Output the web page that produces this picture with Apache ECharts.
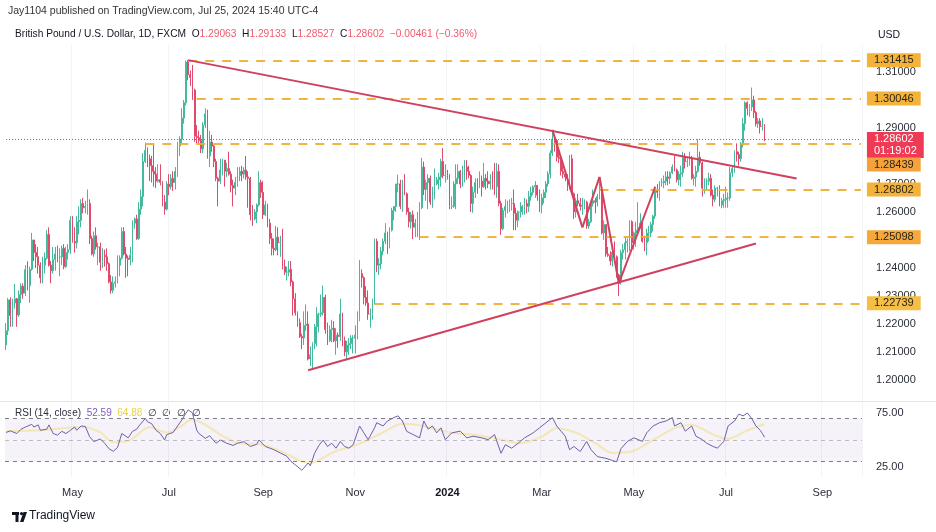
<!DOCTYPE html>
<html><head><meta charset="utf-8">
<script src="https://cdn.jsdelivr.net/npm/echarts@6/dist/echarts.min.js"></script>
<style>html,body{margin:0;padding:0;background:#fff}#c{width:936px;height:532px}</style>
</head><body><div id="c"></div>
<script>
// Daily candles: [date, open, high, low, close]
const candles = [
['2023-03-17',1.2125,1.2203,1.2107,1.2176],['2023-03-20',1.2176,1.2293,1.2160,1.2286],['2023-03-21',1.2286,1.2295,1.2190,1.2230],['2023-03-22',1.2230,1.2290,1.2190,1.2275],['2023-03-23',1.2275,1.2343,1.2255,1.2290],['2023-03-24',1.2290,1.2293,1.2190,1.2232],['2023-03-27',1.2232,1.2320,1.2225,1.2305],['2023-03-28',1.2305,1.2345,1.2275,1.2335],['2023-03-29',1.2335,1.2345,1.2290,1.2310],['2023-03-30',1.2310,1.2410,1.2300,1.2394],['2023-03-31',1.2394,1.2424,1.2320,1.2337],
['2023-04-03',1.2337,1.2405,1.2275,1.2395],['2023-04-04',1.2395,1.2525,1.2390,1.2500],['2023-04-05',1.2500,1.2500,1.2425,1.2455],['2023-04-06',1.2455,1.2485,1.2400,1.2440],['2023-04-07',1.2440,1.2475,1.2380,1.2410],['2023-04-10',1.2410,1.2420,1.2345,1.2365],['2023-04-11',1.2365,1.2440,1.2345,1.2410],['2023-04-12',1.2410,1.2455,1.2380,1.2435],['2023-04-13',1.2435,1.2535,1.2430,1.2520],['2023-04-14',1.2520,1.2545,1.2405,1.2410],['2023-04-17',1.2410,1.2425,1.2345,1.2390],['2023-04-18',1.2390,1.2475,1.2380,1.2430],['2023-04-19',1.2430,1.2475,1.2390,1.2450],['2023-04-20',1.2450,1.2480,1.2420,1.2440],['2023-04-21',1.2440,1.2470,1.2370,1.2440],['2023-04-24',1.2440,1.2480,1.2410,1.2470],['2023-04-25',1.2470,1.2485,1.2395,1.2405],['2023-04-26',1.2405,1.2475,1.2400,1.2455],['2023-04-27',1.2455,1.2485,1.2430,1.2465],['2023-04-28',1.2465,1.2585,1.2450,1.2570],
['2023-05-01',1.2570,1.2585,1.2490,1.2495],['2023-05-02',1.2495,1.2545,1.2455,1.2490],['2023-05-03',1.2490,1.2585,1.2470,1.2565],['2023-05-04',1.2565,1.2620,1.2520,1.2570],['2023-05-05',1.2570,1.2645,1.2545,1.2630],['2023-05-08',1.2630,1.2650,1.2595,1.2615],['2023-05-09',1.2615,1.2640,1.2595,1.2620],['2023-05-10',1.2620,1.2680,1.2590,1.2630],['2023-05-11',1.2630,1.2645,1.2485,1.2505],['2023-05-12',1.2505,1.2515,1.2445,1.2450],['2023-05-15',1.2450,1.2530,1.2440,1.2515],['2023-05-16',1.2515,1.2545,1.2465,1.2475],['2023-05-17',1.2475,1.2490,1.2410,1.2475],['2023-05-18',1.2475,1.2490,1.2390,1.2420],['2023-05-19',1.2420,1.2470,1.2400,1.2445],['2023-05-22',1.2445,1.2465,1.2405,1.2440],['2023-05-23',1.2440,1.2470,1.2390,1.2415],['2023-05-24',1.2415,1.2420,1.2345,1.2350],['2023-05-25',1.2350,1.2375,1.2308,1.2320],['2023-05-26',1.2320,1.2370,1.2310,1.2345],['2023-05-29',1.2345,1.2370,1.2330,1.2350],['2023-05-30',1.2350,1.2445,1.2345,1.2410],['2023-05-31',1.2410,1.2445,1.2370,1.2435],
['2023-06-01',1.2435,1.2545,1.2430,1.2530],['2023-06-02',1.2530,1.2545,1.2445,1.2450],['2023-06-05',1.2450,1.2475,1.2365,1.2435],['2023-06-06',1.2435,1.2445,1.2370,1.2430],['2023-06-07',1.2430,1.2475,1.2410,1.2445],['2023-06-08',1.2445,1.2570,1.2420,1.2560],['2023-06-09',1.2560,1.2580,1.2540,1.2575],['2023-06-12',1.2575,1.2590,1.2500,1.2505],['2023-06-13',1.2505,1.2635,1.2500,1.2610],['2023-06-14',1.2610,1.2680,1.2590,1.2655],['2023-06-15',1.2655,1.2810,1.2620,1.2780],['2023-06-16',1.2780,1.2848,1.2775,1.2820],['2023-06-19',1.2820,1.2830,1.2760,1.2790],['2023-06-20',1.2790,1.2805,1.2710,1.2765],['2023-06-21',1.2765,1.2800,1.2705,1.2745],['2023-06-22',1.2745,1.2840,1.2690,1.2735],['2023-06-23',1.2735,1.2760,1.2685,1.2710],['2023-06-26',1.2710,1.2770,1.2705,1.2715],['2023-06-27',1.2715,1.2770,1.2695,1.2705],['2023-06-28',1.2705,1.2710,1.2620,1.2635],['2023-06-29',1.2635,1.2660,1.2590,1.2610],['2023-06-30',1.2610,1.2710,1.2605,1.2700],
['2023-07-03',1.2700,1.2735,1.2660,1.2690],['2023-07-04',1.2690,1.2735,1.2680,1.2720],['2023-07-05',1.2720,1.2745,1.2675,1.2705],['2023-07-06',1.2705,1.2760,1.2680,1.2745],['2023-07-07',1.2745,1.2850,1.2725,1.2835],['2023-07-10',1.2835,1.2870,1.2800,1.2860],['2023-07-11',1.2860,1.2970,1.2845,1.2935],['2023-07-12',1.2935,1.3000,1.2915,1.2990],['2023-07-13',1.2990,1.3140,1.2980,1.3135],['2023-07-14',1.3135,1.3142,1.3070,1.3090],['2023-07-17',1.3090,1.3105,1.3050,1.3080],['2023-07-18',1.3080,1.3125,1.3000,1.3035],['2023-07-19',1.3035,1.3040,1.2850,1.2870],['2023-07-20',1.2870,1.2910,1.2845,1.2865],['2023-07-21',1.2865,1.2890,1.2845,1.2855],['2023-07-24',1.2855,1.2875,1.2810,1.2825],['2023-07-25',1.2825,1.2920,1.2810,1.2910],['2023-07-26',1.2910,1.2970,1.2900,1.2950],['2023-07-27',1.2950,1.2965,1.2790,1.2800],['2023-07-28',1.2800,1.2890,1.2760,1.2850],['2023-07-31',1.2850,1.2875,1.2815,1.2835],
['2023-08-01',1.2835,1.2840,1.2760,1.2780],['2023-08-02',1.2780,1.2790,1.2710,1.2720],['2023-08-03',1.2720,1.2725,1.2620,1.2710],['2023-08-04',1.2710,1.2790,1.2700,1.2750],['2023-08-07',1.2750,1.2790,1.2730,1.2785],['2023-08-08',1.2785,1.2785,1.2690,1.2745],['2023-08-09',1.2745,1.2775,1.2725,1.2755],['2023-08-10',1.2755,1.2815,1.2730,1.2735],['2023-08-11',1.2735,1.2745,1.2670,1.2695],['2023-08-14',1.2695,1.2715,1.2620,1.2685],['2023-08-15',1.2685,1.2725,1.2660,1.2705],['2023-08-16',1.2705,1.2760,1.2690,1.2730],['2023-08-17',1.2730,1.2760,1.2710,1.2745],['2023-08-18',1.2745,1.2765,1.2710,1.2735],['2023-08-21',1.2735,1.2760,1.2720,1.2750],['2023-08-22',1.2750,1.2800,1.2715,1.2725],['2023-08-23',1.2725,1.2745,1.2615,1.2720],['2023-08-24',1.2720,1.2725,1.2570,1.2590],['2023-08-25',1.2590,1.2625,1.2550,1.2575],['2023-08-28',1.2575,1.2610,1.2570,1.2600],['2023-08-29',1.2600,1.2630,1.2560,1.2625],['2023-08-30',1.2625,1.2745,1.2620,1.2705],['2023-08-31',1.2705,1.2715,1.2650,1.2670],
['2023-09-01',1.2670,1.2710,1.2575,1.2590],['2023-09-04',1.2590,1.2640,1.2585,1.2625],['2023-09-05',1.2625,1.2630,1.2545,1.2560],['2023-09-06',1.2560,1.2575,1.2485,1.2505],['2023-09-07',1.2505,1.2525,1.2445,1.2470],['2023-09-08',1.2470,1.2505,1.2445,1.2465],['2023-09-11',1.2465,1.2550,1.2460,1.2510],['2023-09-12',1.2510,1.2545,1.2445,1.2490],['2023-09-13',1.2490,1.2515,1.2440,1.2490],['2023-09-14',1.2490,1.2540,1.2395,1.2405],['2023-09-15',1.2405,1.2430,1.2375,1.2385],['2023-09-18',1.2385,1.2405,1.2355,1.2385],['2023-09-19',1.2385,1.2425,1.2370,1.2395],['2023-09-20',1.2395,1.2425,1.2335,1.2350],['2023-09-21',1.2350,1.2355,1.2230,1.2290],['2023-09-22',1.2290,1.2310,1.2230,1.2240],['2023-09-25',1.2240,1.2245,1.2190,1.2205],['2023-09-26',1.2205,1.2220,1.2150,1.2155],['2023-09-27',1.2155,1.2165,1.2110,1.2150],['2023-09-28',1.2150,1.2245,1.2125,1.2195],['2023-09-29',1.2195,1.2270,1.2175,1.2200],
['2023-10-02',1.2200,1.2245,1.2070,1.2075],['2023-10-03',1.2075,1.2120,1.2050,1.2090],['2023-10-04',1.2090,1.2135,1.2037,1.2130],['2023-10-05',1.2130,1.2200,1.2110,1.2190],['2023-10-06',1.2190,1.2260,1.2120,1.2235],['2023-10-09',1.2235,1.2240,1.2170,1.2235],['2023-10-10',1.2235,1.2305,1.2225,1.2240],['2023-10-11',1.2240,1.2337,1.2230,1.2295],['2023-10-12',1.2295,1.2305,1.2165,1.2180],['2023-10-13',1.2180,1.2205,1.2125,1.2140],['2023-10-16',1.2140,1.2195,1.2135,1.2180],['2023-10-17',1.2180,1.2215,1.2135,1.2185],['2023-10-18',1.2185,1.2210,1.2135,1.2140],['2023-10-19',1.2140,1.2185,1.2090,1.2160],['2023-10-20',1.2160,1.2170,1.2115,1.2155],['2023-10-23',1.2155,1.2290,1.2140,1.2235],['2023-10-24',1.2235,1.2240,1.2120,1.2140],['2023-10-25',1.2140,1.2155,1.2085,1.2100],['2023-10-26',1.2100,1.2140,1.2070,1.2125],['2023-10-27',1.2125,1.2150,1.2090,1.2130],['2023-10-30',1.2130,1.2160,1.2110,1.2150],['2023-10-31',1.2150,1.2160,1.2095,1.2150],
['2023-11-01',1.2150,1.2195,1.2095,1.2160],['2023-11-02',1.2160,1.2245,1.2145,1.2220],['2023-11-03',1.2220,1.2428,1.2210,1.2380],['2023-11-06',1.2380,1.2395,1.2330,1.2365],['2023-11-07',1.2365,1.2370,1.2270,1.2295],['2023-11-08',1.2295,1.2335,1.2265,1.2275],['2023-11-09',1.2275,1.2320,1.2215,1.2235],['2023-11-10',1.2235,1.2255,1.2187,1.2235],['2023-11-13',1.2235,1.2290,1.2215,1.2275],['2023-11-14',1.2275,1.2505,1.2270,1.2495],['2023-11-15',1.2495,1.2505,1.2385,1.2410],['2023-11-16',1.2410,1.2435,1.2375,1.2415],['2023-11-17',1.2415,1.2475,1.2395,1.2460],['2023-11-20',1.2460,1.2505,1.2445,1.2495],['2023-11-21',1.2495,1.2560,1.2485,1.2525],['2023-11-22',1.2525,1.2530,1.2450,1.2475],['2023-11-23',1.2475,1.2545,1.2470,1.2535],['2023-11-24',1.2535,1.2615,1.2530,1.2605],['2023-11-27',1.2605,1.2620,1.2570,1.2620],['2023-11-28',1.2620,1.2700,1.2600,1.2700],['2023-11-29',1.2700,1.2733,1.2670,1.2700],['2023-11-30',1.2700,1.2715,1.2610,1.2620],
['2023-12-01',1.2620,1.2715,1.2600,1.2705],['2023-12-04',1.2705,1.2735,1.2660,1.2665],['2023-12-05',1.2665,1.2670,1.2590,1.2600],['2023-12-06',1.2600,1.2615,1.2545,1.2565],['2023-12-07',1.2565,1.2600,1.2540,1.2590],['2023-12-08',1.2590,1.2605,1.2503,1.2545],['2023-12-11',1.2545,1.2575,1.2510,1.2560],['2023-12-12',1.2560,1.2600,1.2510,1.2560],['2023-12-13',1.2560,1.2635,1.2500,1.2615],['2023-12-14',1.2615,1.2793,1.2610,1.2760],['2023-12-15',1.2760,1.2780,1.2660,1.2680],['2023-12-18',1.2680,1.2715,1.2640,1.2705],['2023-12-19',1.2705,1.2735,1.2610,1.2720],['2023-12-20',1.2720,1.2730,1.2625,1.2635],['2023-12-21',1.2635,1.2690,1.2615,1.2680],['2023-12-22',1.2680,1.2755,1.2645,1.2700],['2023-12-25',1.2700,1.2725,1.2695,1.2715],['2023-12-26',1.2715,1.2740,1.2680,1.2725],['2023-12-27',1.2725,1.2790,1.2690,1.2780],['2023-12-28',1.2780,1.2828,1.2720,1.2730],['2023-12-29',1.2730,1.2770,1.2705,1.2730],
['2024-01-01',1.2730,1.2750,1.2715,1.2720],['2024-01-02',1.2720,1.2735,1.2610,1.2620],['2024-01-03',1.2620,1.2655,1.2610,1.2620],['2024-01-04',1.2620,1.2710,1.2615,1.2700],['2024-01-05',1.2700,1.2770,1.2610,1.2720],['2024-01-08',1.2720,1.2770,1.2700,1.2745],['2024-01-09',1.2745,1.2750,1.2685,1.2700],['2024-01-10',1.2700,1.2765,1.2690,1.2750],['2024-01-11',1.2750,1.2785,1.2705,1.2760],['2024-01-12',1.2760,1.2785,1.2715,1.2745],['2024-01-15',1.2745,1.2765,1.2720,1.2730],['2024-01-16',1.2730,1.2735,1.2600,1.2630],['2024-01-17',1.2630,1.2690,1.2597,1.2670],['2024-01-18',1.2670,1.2720,1.2650,1.2705],['2024-01-19',1.2705,1.2720,1.2665,1.2700],['2024-01-22',1.2700,1.2745,1.2685,1.2710],['2024-01-23',1.2710,1.2730,1.2655,1.2690],['2024-01-24',1.2690,1.2775,1.2685,1.2720],['2024-01-25',1.2720,1.2735,1.2680,1.2710],['2024-01-26',1.2710,1.2745,1.2685,1.2700],['2024-01-29',1.2700,1.2735,1.2680,1.2710],['2024-01-30',1.2710,1.2745,1.2680,1.2700],['2024-01-31',1.2700,1.2775,1.2660,1.2690],
['2024-02-01',1.2690,1.2775,1.2650,1.2745],['2024-02-02',1.2745,1.2770,1.2620,1.2630],['2024-02-05',1.2630,1.2640,1.2518,1.2540],['2024-02-06',1.2540,1.2615,1.2535,1.2605],['2024-02-07',1.2605,1.2645,1.2580,1.2620],['2024-02-08',1.2620,1.2640,1.2595,1.2625],['2024-02-09',1.2625,1.2645,1.2600,1.2630],['2024-02-12',1.2630,1.2650,1.2605,1.2630],['2024-02-13',1.2630,1.2680,1.2535,1.2595],['2024-02-14',1.2595,1.2615,1.2535,1.2570],['2024-02-15',1.2570,1.2605,1.2545,1.2600],['2024-02-16',1.2600,1.2635,1.2580,1.2600],['2024-02-19',1.2600,1.2625,1.2590,1.2620],['2024-02-20',1.2620,1.2650,1.2590,1.2630],['2024-02-21',1.2630,1.2645,1.2595,1.2620],['2024-02-22',1.2620,1.2675,1.2600,1.2655],['2024-02-23',1.2655,1.2690,1.2640,1.2670],['2024-02-26',1.2670,1.2695,1.2660,1.2690],['2024-02-27',1.2690,1.2710,1.2650,1.2695],['2024-02-28',1.2695,1.2695,1.2640,1.2660],['2024-02-29',1.2660,1.2680,1.2600,1.2625],
['2024-03-01',1.2625,1.2665,1.2595,1.2650],['2024-03-04',1.2650,1.2680,1.2630,1.2670],['2024-03-05',1.2670,1.2710,1.2650,1.2700],['2024-03-06',1.2700,1.2745,1.2690,1.2735],['2024-03-07',1.2735,1.2820,1.2720,1.2810],['2024-03-08',1.2810,1.2893,1.2800,1.2860],['2024-03-11',1.2860,1.2865,1.2815,1.2855],['2024-03-12',1.2855,1.2860,1.2780,1.2795],['2024-03-13',1.2795,1.2815,1.2775,1.2790],['2024-03-14',1.2790,1.2800,1.2730,1.2745],['2024-03-15',1.2745,1.2765,1.2720,1.2735],['2024-03-18',1.2735,1.2750,1.2710,1.2725],['2024-03-19',1.2725,1.2735,1.2675,1.2720],['2024-03-20',1.2720,1.2803,1.2680,1.2790],['2024-03-21',1.2790,1.2805,1.2665,1.2665],['2024-03-22',1.2665,1.2670,1.2575,1.2600],['2024-03-25',1.2600,1.2650,1.2580,1.2640],['2024-03-26',1.2640,1.2665,1.2620,1.2630],['2024-03-27',1.2630,1.2650,1.2605,1.2620],['2024-03-28',1.2620,1.2650,1.2590,1.2625],['2024-03-29',1.2625,1.2645,1.2610,1.2635],
['2024-04-01',1.2635,1.2640,1.2540,1.2550],['2024-04-02',1.2550,1.2575,1.2540,1.2565],['2024-04-03',1.2565,1.2635,1.2560,1.2630],['2024-04-04',1.2630,1.2680,1.2620,1.2640],['2024-04-05',1.2640,1.2650,1.2595,1.2635],['2024-04-08',1.2635,1.2665,1.2620,1.2655],['2024-04-09',1.2655,1.2709,1.2645,1.2675],['2024-04-10',1.2675,1.2680,1.2520,1.2525],['2024-04-11',1.2525,1.2570,1.2500,1.2555],['2024-04-12',1.2555,1.2555,1.2440,1.2450],['2024-04-15',1.2450,1.2475,1.2440,1.2445],['2024-04-16',1.2445,1.2460,1.2410,1.2425],['2024-04-17',1.2425,1.2460,1.2405,1.2455],['2024-04-18',1.2455,1.2495,1.2435,1.2440],['2024-04-19',1.2440,1.2445,1.2365,1.2375],['2024-04-22',1.2375,1.2380,1.2300,1.2350],['2024-04-23',1.2350,1.2465,1.2340,1.2455],['2024-04-24',1.2455,1.2485,1.2430,1.2465],['2024-04-25',1.2465,1.2510,1.2430,1.2490],['2024-04-26',1.2490,1.2505,1.2455,1.2495],['2024-04-29',1.2495,1.2570,1.2460,1.2565],['2024-04-30',1.2565,1.2570,1.2470,1.2490],
['2024-05-01',1.2490,1.2530,1.2465,1.2525],['2024-05-02',1.2525,1.2565,1.2475,1.2535],['2024-05-03',1.2535,1.2635,1.2520,1.2545],['2024-05-06',1.2545,1.2595,1.2540,1.2560],['2024-05-07',1.2560,1.2570,1.2490,1.2495],['2024-05-08',1.2495,1.2515,1.2460,1.2490],['2024-05-09',1.2490,1.2540,1.2445,1.2525],['2024-05-10',1.2525,1.2550,1.2495,1.2525],['2024-05-13',1.2525,1.2565,1.2510,1.2555],['2024-05-14',1.2555,1.2590,1.2530,1.2585],['2024-05-15',1.2585,1.2690,1.2575,1.2680],['2024-05-16',1.2680,1.2700,1.2650,1.2670],['2024-05-17',1.2670,1.2710,1.2640,1.2705],['2024-05-20',1.2705,1.2720,1.2690,1.2705],['2024-05-21',1.2705,1.2730,1.2685,1.2710],['2024-05-22',1.2710,1.2745,1.2695,1.2725],['2024-05-23',1.2725,1.2745,1.2695,1.2720],['2024-05-24',1.2720,1.2745,1.2700,1.2740],['2024-05-27',1.2740,1.2770,1.2735,1.2760],['2024-05-28',1.2760,1.2800,1.2745,1.2750],['2024-05-29',1.2750,1.2755,1.2705,1.2715],['2024-05-30',1.2715,1.2745,1.2695,1.2735],['2024-05-31',1.2735,1.2765,1.2690,1.2740],
['2024-06-03',1.2740,1.2815,1.2725,1.2795],['2024-06-04',1.2795,1.2810,1.2755,1.2780],['2024-06-05',1.2780,1.2795,1.2760,1.2780],['2024-06-06',1.2780,1.2815,1.2765,1.2790],['2024-06-07',1.2790,1.2800,1.2715,1.2720],['2024-06-10',1.2720,1.2735,1.2695,1.2725],['2024-06-11',1.2725,1.2765,1.2690,1.2745],['2024-06-12',1.2745,1.2860,1.2740,1.2795],['2024-06-13',1.2795,1.2815,1.2765,1.2775],['2024-06-14',1.2775,1.2780,1.2655,1.2685],['2024-06-17',1.2685,1.2720,1.2665,1.2710],['2024-06-18',1.2710,1.2720,1.2680,1.2710],['2024-06-19',1.2710,1.2740,1.2695,1.2720],['2024-06-20',1.2720,1.2735,1.2655,1.2660],['2024-06-21',1.2660,1.2680,1.2620,1.2645],['2024-06-24',1.2645,1.2695,1.2635,1.2685],['2024-06-25',1.2685,1.2690,1.2655,1.2685],['2024-06-26',1.2685,1.2695,1.2620,1.2625],['2024-06-27',1.2625,1.2650,1.2613,1.2640],['2024-06-28',1.2640,1.2665,1.2615,1.2645],
['2024-07-01',1.2645,1.2690,1.2615,1.2650],['2024-07-02',1.2650,1.2670,1.2615,1.2650],['2024-07-03',1.2650,1.2760,1.2640,1.2740],['2024-07-04',1.2740,1.2765,1.2725,1.2755],['2024-07-05',1.2755,1.2820,1.2740,1.2815],['2024-07-08',1.2815,1.2845,1.2780,1.2805],['2024-07-09',1.2805,1.2815,1.2765,1.2790],['2024-07-10',1.2790,1.2850,1.2780,1.2840],['2024-07-11',1.2840,1.2935,1.2830,1.2915],['2024-07-12',1.2915,1.2995,1.2890,1.2990],['2024-07-15',1.2990,1.2995,1.2945,1.2970],['2024-07-16',1.2970,1.2985,1.2940,1.2975],['2024-07-17',1.2975,1.3044,1.2960,1.3000],['2024-07-18',1.3000,1.3015,1.2935,1.2955],['2024-07-19',1.2955,1.2960,1.2905,1.2915],['2024-07-22',1.2915,1.2935,1.2900,1.2925],['2024-07-23',1.2925,1.2935,1.2880,1.2905],['2024-07-24',1.2905,1.2935,1.2890,1.29063],['2024-07-25',1.29063,1.29133,1.28527,1.28602]
];
// Empty future sessions that extend the time axis
const futureDates = ['2024-07-26','2024-07-29','2024-07-30','2024-07-31','2024-08-01','2024-08-02','2024-08-05','2024-08-06','2024-08-07','2024-08-08','2024-08-09','2024-08-12','2024-08-13','2024-08-14','2024-08-15','2024-08-16','2024-08-19','2024-08-20','2024-08-21','2024-08-22','2024-08-23','2024-08-26','2024-08-27','2024-08-28','2024-08-29','2024-08-30','2024-09-02','2024-09-03','2024-09-04','2024-09-05','2024-09-06','2024-09-09','2024-09-10','2024-09-11','2024-09-12','2024-09-13','2024-09-16','2024-09-17','2024-09-18','2024-09-19','2024-09-20','2024-09-23','2024-09-24','2024-09-25','2024-09-26'];

const levelValues = [1.31415, 1.30046, 1.28439, 1.26802, 1.25098, 1.22739];
const levelStarts = ['2023-07-14', '2023-07-20', '2023-06-16', '2024-04-09', '2023-12-13', '2023-11-14'];
const lastPrice = 1.28602;
const countdown = '01:19:02';
const upperTrend = [['2023-07-14', 1.3142], ['2024-08-15', 1.2719]];
const lowerTrend = [['2023-10-02', 1.2035], ['2024-07-19', 1.2487]];
const zigzag = [['2024-03-08', 1.2893], ['2024-03-28', 1.2545], ['2024-04-09', 1.2725], ['2024-04-22', 1.2345], ['2024-05-15', 1.2690]];
const priceTicks = [1.20, 1.21, 1.22, 1.23, 1.24, 1.25, 1.26, 1.27, 1.28, 1.29, 1.30, 1.31];
const rsiTicks = [25, 75];
const rsiLevels = [70, 50, 30];
const monthNames = ['Jan','Feb','Mar','Apr','May','Jun','Jul','Aug','Sep','Oct','Nov','Dec'];

// RSI(14): [candle index, value]
const rsiPoints = [[0,57],[2,58.5],[5,56],[7,60],[9,62],[12,64.5],[13,62],[15,64],[16,59],[19,60],[20,64],[22,56],[24,54.5],[26,58],[28,56],[30,59],[32,62],[33,59],[35,63],[37,62.5],[39,53],[41,48.5],[44,51],[46,47],[48,42],[50,39.5],[52,43],[54,56],[57,52],[59,58],[61,60],[62,63],[65,70],[66,67],[68,65],[70,59],[72,56],[74,50],[75,55],[78,57],[79,60],[82,68.5],[84,75],[85,78],[87,75],[89,59],[90,56],[93,51.5],[95,54],[98,47],[100,50],[103,47],[106,45],[108,47],[111,48.5],[114,44],[117,46],[118,50],[121,44],[123,42.5],[125,41],[128,38],[131,35],[133,30],[135,27],[138,22],[139,24],[141,28.7],[142,26],[144,37.7],[146,45],[148,50],[150,44],[152,47],[154,42.4],[156,48.7],[158,44],[160,42.4],[162,45.6],[165,63],[167,56.6],[169,50.3],[172,61.3],[173,66],[176,63],[178,67.6],[181,70.8],[183,72.4],[185,67.6],[187,58],[190,55],[193,52],[195,67.6],[197,60],[199,63],[201,56.6],[203,61.3],[205,50.3],[208,56.6],[212,58.2],[215,52],[218,53.5],[222,52],[225,50.3],[228,55],[231,37.7],[233,45.6],[236,42.4],[239,47],[242,52],[246,56.6],[249,61.3],[252,66],[255,70.8],[257,63],[259,58.2],[261,53.5],[263,41],[265,44],[268,39.3],[271,48.7],[273,41],[276,34.6],[280,33],[283,31],[285,29.8],[287,42],[290,48.7],[293,52],[297,48.7],[299,56.6],[302,63],[305,66],[308,67.6],[311,70.8],[312,63],[315,66],[317,58.2],[320,63],[322,53.5],[325,50.3],[327,47],[330,44],[332,42.4],[335,48.7],[337,63],[340,67.6],[342,74],[344,72.4],[346,75],[348,70],[350,63],[352,59],[353,56],[354,52.59]];
// RSI-based MA
const rsiMaPoints = [[0,58],[16,59],[36,62],[44,57],[50,48],[58,50],[67,62],[75,57],[81,62],[87,69],[93,64],[100,55],[109,47],[118,46],[129,39],[137,31],[142,28.5],[153,39],[163,45],[175,56],[185,65],[195,63],[207,57],[220,54.5],[230,51],[240,47],[250,53],[257,61],[267,56],[275,47],[283,38],[293,40],[302,50],[312,61],[320,64],[330,55],[337,51],[345,58],[354,64.88]];
const rsiLast = 52.59, rsiMaLast = 64.88;

const dates = candles.map(r => r[0]).concat(futureDates);
const firstCat = dates[0], lastCat = dates[dates.length - 1];
const ohlc = candles.map(r => [r[1], r[4], r[3], r[2]]);

const labelIdx = new Set();
for (let i = 1; i < dates.length; i++) {
  const m = +dates[i].slice(5, 7), pm = +dates[i - 1].slice(5, 7);
  if (m !== pm && m % 2 === 1) labelIdx.add(i);
}
const showTick = (i) => labelIdx.has(i);
const fmtDate = (v) => {
  const m = +v.slice(5, 7);
  return m === 1 ? '{b|' + v.slice(0, 4) + '}' : monthNames[m - 1];
};

const FONT = '"Liberation Sans", Arial, sans-serif';
const GOLD = '#F3B23A';
const levelBoxColors = [GOLD, GOLD, '#F6A23A', GOLD, '#F6A93A', '#F5BE45'];
const levelOffsets = [0, 0, 21, 0, 0, 0];

const levelLines = levelValues.map((v, i) => [
  { coord: [levelStarts[i], v],
    lineStyle: { color: 'rgba(240,172,45,0.9)', width: 2, type: [9, 8] },
    label: { show: true, position: 'end', distance: 6, formatter: v.toFixed(5),
      backgroundColor: levelBoxColors[i], color: '#2a2418', padding: [1, 7, 0, 7],
      fontSize: 11, fontFamily: FONT, lineHeight: 13, offset: [0, levelOffsets[i]] } },
  { coord: [lastCat, v] }
]);
const plain = { color: '#D0405F', width: 2, type: 'solid' };
const segs = [];
segs.push([{ coord: upperTrend[0], lineStyle: plain, label: { show: false } }, { coord: upperTrend[1] }]);
segs.push([{ coord: lowerTrend[0], lineStyle: plain, label: { show: false } }, { coord: lowerTrend[1] }]);
for (let i = 0; i < zigzag.length - 1; i++) {
  segs.push([{ coord: zigzag[i], lineStyle: plain, label: { show: false } }, { coord: zigzag[i + 1] }]);
}
const priceLine = [
  { coord: [firstCat, lastPrice],
    lineStyle: { color: '#F23645', width: 1, type: [1, 2] },
    label: { show: true, position: 'end', distance: 6, formatter: lastPrice.toFixed(5) + '\n' + countdown,
      backgroundColor: '#EE3A55', color: '#fff', padding: [1, 7, 1, 7], fontSize: 11,
      fontFamily: FONT, lineHeight: 12, offset: [0, 6] } },
  { coord: [lastCat, lastPrice] }
];

const chart = echarts.init(document.getElementById('c'));
chart.setOption({
  animation: false,
  backgroundColor: '#ffffff',
  grid: [
    { left: 5, right: 74, top: 45, height: 356 },
    { left: 5, right: 74, top: 403, height: 74 }
  ],
  xAxis: [
    { type: 'category', gridIndex: 0, data: dates, boundaryGap: true,
      axisLine: { show: false }, axisTick: { show: false }, axisLabel: { show: false },
      splitLine: { show: true, interval: showTick, lineStyle: { color: '#f3f4f7', width: 1 } } },
    { type: 'category', gridIndex: 1, data: dates, boundaryGap: true,
      axisLine: { show: false }, axisTick: { show: false },
      splitLine: { show: true, interval: showTick, lineStyle: { color: '#f3f4f7', width: 1 } },
      axisLabel: { show: true, interval: showTick, formatter: fmtDate, margin: 10,
        color: '#2a2e39', fontSize: 11, fontFamily: FONT,
        rich: { b: { fontWeight: 'bold', fontSize: 11, color: '#131722', fontFamily: FONT } } } }
  ],
  yAxis: [
    { type: 'value', gridIndex: 0, position: 'right', min: 1.1925, max: 1.3196,
      splitLine: { show: false }, axisLine: { show: false }, axisTick: { show: false },
      axisLabel: { customValues: priceTicks, formatter: v => v.toFixed(5), margin: 14,
        color: '#2a2e39', fontSize: 11, fontFamily: FONT } },
    { type: 'value', gridIndex: 1, position: 'right', min: 15.7, max: 84.3,
      splitLine: { show: false }, axisLine: { show: false }, axisTick: { show: false },
      axisLabel: { customValues: rsiTicks, formatter: v => v.toFixed(2), margin: 14,
        color: '#2a2e39', fontSize: 11, fontFamily: FONT } }
  ],
  series: [
    { type: 'candlestick', xAxisIndex: 0, yAxisIndex: 0, data: ohlc, barWidth: '62%',
      itemStyle: { color: '#45B99B', color0: '#E04B6C', borderColor: '#45B99B', borderColor0: '#E04B6C', borderWidth: 1 },
      markLine: { silent: true, symbol: ['none', 'none'], animation: false,
        data: [priceLine].concat(levelLines, segs) } },
    { type: 'line', name: 'RSI MA', xAxisIndex: 1, yAxisIndex: 1, data: rsiMaPoints,
      showSymbol: false, smooth: 0.3, lineStyle: { color: 'rgba(242,222,110,0.5)', width: 2 },
      markLine: { silent: true, symbol: ['none', 'none'],
        data: [{ yAxis: rsiMaLast, lineStyle: { opacity: 0 },
          label: { show: true, position: 'end', distance: 6, formatter: rsiMaLast.toFixed(2),
            backgroundColor: '#F2E34C', color: '#4b3a8a', padding: [1, 6, 0, 6], fontSize: 11,
            fontFamily: FONT, lineHeight: 12 } }] } },
    { type: 'line', name: 'RSI', xAxisIndex: 1, yAxisIndex: 1, data: rsiPoints,
      showSymbol: false, lineStyle: { color: '#6E62A8', width: 1 },
      markArea: { silent: true, itemStyle: { color: 'rgba(126,87,194,0.08)' },
        data: [[{ yAxis: 30 }, { yAxis: 70 }]] },
      markLine: { silent: true, symbol: ['none', 'none'],
        data: rsiLevels.map(v => ({ yAxis: v, label: { show: false },
          lineStyle: { color: v === 50 ? 'rgba(120,123,134,0.45)' : '#787B86', width: 1, type: [4, 4] } }))
          .concat([{ yAxis: rsiLast, lineStyle: { opacity: 0 },
            label: { show: true, position: 'end', distance: 6, formatter: rsiLast.toFixed(2),
              backgroundColor: '#7E57C2', color: '#fff', padding: [1, 6, 0, 6], fontSize: 11,
              fontFamily: FONT, lineHeight: 12 } }]) } }
  ],
  graphic: [
    { type: 'text', left: 8, top: 6, silent: true,
      style: { text: 'Jay1104 published on TradingView.com, Jul 25, 2024 15:40 UTC-4', fill: '#333', font: '10.5px ' + FONT } },
    { type: 'text', left: 15, top: 29, silent: true,
      style: { text: '{a|British Pound / U.S. Dollar, 1D, FXCM}  {a|O}{v|1.29063}  {a|H}{v|1.29133}  {a|L}{v|1.28527}  {a|C}{v|1.28602}  {v|\u22120.00461 (\u22120.36%)}',
        font: '10.2px ' + FONT,
        rich: { a: { fill: '#131722', font: '10.2px ' + FONT }, v: { fill: '#EF5A70', font: '10.2px ' + FONT } } } },
    { type: 'text', left: 878, top: 30, silent: true,
      style: { text: 'USD', fill: '#131722', font: '10.5px ' + FONT } },
    { type: 'rect', silent: true, shape: { x: 0, y: 401, width: 936, height: 1 }, style: { fill: '#e0e3eb' } },
    { type: 'text', left: 15, top: 408, silent: true,
      style: { text: '{a|RSI (14, close)}  {p|52.59}  {y|64.88}  {a|\u2205  \u2205  \u2205  \u2205}',
        font: '10px ' + FONT,
        rich: { a: { fill: '#2a2e39', font: '10px ' + FONT }, p: { fill: '#7E57C2', font: '10px ' + FONT }, y: { fill: '#E8D43C', font: '10px ' + FONT } } } },
    { type: 'group', left: 12, top: 512, silent: true, children: [
      { type: 'rect', shape: { x: 0, y: 0, width: 7, height: 3 }, style: { fill: '#131722' } },
      { type: 'rect', shape: { x: 3.5, y: 0, width: 3, height: 10 }, style: { fill: '#131722' } },
      { type: 'circle', shape: { cx: 9.5, cy: 1.6, r: 1.6 }, style: { fill: '#131722' } },
      { type: 'polygon', shape: { points: [[11.5, 0], [15, 0], [11.5, 10], [8, 10]] }, style: { fill: '#131722' } }
    ] },
    { type: 'text', left: 29, top: 510, silent: true,
      style: { text: 'TradingView', fill: '#131722', font: '500 12px ' + FONT } }
  ]
});
</script>
</body></html>
